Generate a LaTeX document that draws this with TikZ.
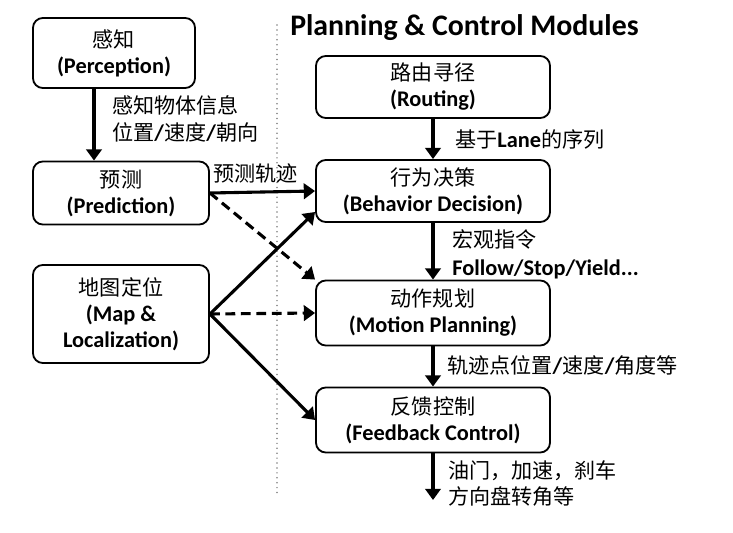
\documentclass[tikz,border=0pt]{standalone}
\usepackage{fontspec}
\setmainfont[Scale=1.06]{Carlito}
\newfontfamily\cjk{Noto Sans CJK SC}
\newcommand{\zh}[1]{{\cjk #1}}
\newcommand{\en}[1]{\textbf{#1}}
\usepackage{tikz}
\usetikzlibrary{arrows.meta}
\usetikzlibrary{calc}

\begin{document}
\begin{tikzpicture}[
            x=0.025cm, y=-0.025cm,
            module/.style={draw, rounded corners=7pt, line width=1.3pt, align=center,
                inner sep=0pt, font=\fontsize{15}{18.5}\selectfont},
            flow/.style={-{Triangle[length=8pt, width=11pt]}, line width=2.2pt},
            dflow/.style={flow, dash pattern=on 7pt off 4pt},
            info/.style={anchor=west, align=left, inner sep=0pt, font=\fontsize{15}{19}\selectfont},
        ]
            \useasboundingbox (0,0) rectangle (733,533);

            % --- Linke Seite: Eingangsmodule ---
            \node[module, minimum width=4.05cm, minimum height=1.75cm] (perc) at (114,53)
                {\zh{感知}\\\en{(Perception)}};
            \node[module, minimum width=4.4cm, minimum height=1.575cm] (pred) at (121,193)
                {\zh{预测}\\\en{(Prediction)}};
            \node[module, minimum width=4.4cm, minimum height=2.45cm] (map) at (121,314)
                {\zh{地图定位}\\\en{(Map \&}\\\en{Localization)}};

            % --- Trennlinie und Titel ---
            \coordinate (sepTop) at (277,25);
            \coordinate (sepBot) at (277,497);
            \draw[gray, line width=1.2pt, line cap=round, dash pattern=on 0pt off 3.5pt] (sepTop) -- (sepBot);
            \node[anchor=west, inner sep=0pt, font=\fontsize{20}{24}\selectfont\bfseries] (title) at (290,28)
                {Planning \& Control Modules};

            % --- Rechte Seite: Planung und Regelung ---
            \node[module, minimum width=5.85cm, minimum height=1.55cm] (route) at (433,87)
                {\zh{路由寻径}\\\en{(Routing)}};
            \node[module, minimum width=5.85cm, minimum height=1.55cm] (beh) at (433,191)
                {\zh{行为决策}\\\en{(Behavior Decision)}};
            \node[module, minimum width=5.85cm, minimum height=1.625cm] (mot) at (433,313)
                {\zh{动作规划}\\\en{(Motion Planning)}};
            \node[module, minimum width=5.85cm, minimum height=1.625cm] (fb) at (433,420)
                {\zh{反馈控制}\\\en{(Feedback Control)}};
            \coordinate (out) at (433,500);

            % --- Pfeile ---
            \coordinate (percOut) at ($(perc.south)+(-20,0)$);
            \draw[flow] (percOut) -- (percOut |- pred.north);
            \draw[flow] (route) -- (beh);
            \draw[flow] (beh) -- (mot);
            \draw[flow] (mot) -- (fb);
            \draw[flow] (fb) -- (out);
            \draw[flow] (pred.east) -- (beh.west);
            \draw[dflow] (pred.east) -- (mot.north west);
            \draw[flow] (map.east) -- ($(beh.west)+(0,21)$);
            \draw[dflow] (map.east) -- (mot.west);
            \draw[flow] (map.east) -- (fb.west);

            % --- Beschriftungen ---
            \node[info] (percInfo) at (112,119)
                {\zh{感知物体信息}\\\zh{位置}\en{/}\zh{速度}\en{/}\zh{朝向}};
            \node[info] (predInfo) at (213,173) {\zh{预测轨迹}};
            \node[info] (routeInfo) at (455,139) {\zh{基于}\en{Lane}\zh{的序列}};
            \node[info, font=\fontsize{15}{20}\selectfont] (behInfo) at (452,254)
                {\zh{宏观指令}\\\en{Follow/Stop/Yield...}};
            \node[info] (motInfo) at (447,365) {\zh{轨迹点位置}\en{/}\zh{速度}\en{/}\zh{角度等}};
            \node[info, font=\fontsize{15}{18.5}\selectfont] (fbInfo) at (448,484)
                {\zh{油门，加速，刹车}\\\zh{方向盘转角等}};
        \end{tikzpicture}
\end{document}
